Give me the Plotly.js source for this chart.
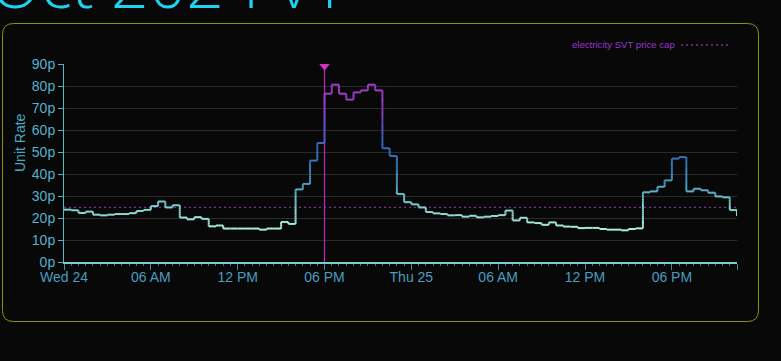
<!DOCTYPE html>
<html>
<head>
<meta charset="utf-8">
<script src="https://cdn.plot.ly/plotly-3.0.1.min.js"></script>
<style>
  html, body { margin: 0; padding: 0; background: #080808; }
  #chart { width: 781px; height: 361px; }
</style>
</head>
<body>
<div id="chart"></div>
<script>
// ---------- DATA ----------
const chartTitle = 'Oct 2024 v1';
const seriesStart = '2025-09-24 00:00';   // first half-hour slot (Wed 24)
const slotMinutes = 30;
// unit rate (p/kWh) for each half-hour slot, Wed 24 00:00 -> Thu 25 22:30
const unitRates = [
  23.8, 23.5, 22.3, 22.9, 21.5, 21.2, 21.5, 21.8, 21.8, 22.2,
  23.2, 23.7, 25.4, 27.5, 24.8, 25.8, 20.2, 19.4, 20.4, 19.6,
  16.2, 16.6, 15.2, 15.2, 15.2, 15.2, 15.2, 14.7, 15.2, 15.2,
  18.2, 17.3, 33.0, 35.5, 46.1, 54.1, 76.5, 80.6, 76.5, 73.8,
  77.1, 78.0, 80.6, 78.0, 51.7, 48.2, 30.9, 27.2, 26.2, 24.8,
  22.7, 22.1, 21.8, 21.2, 21.3, 20.6, 21.0, 20.3, 20.6, 20.9,
  21.3, 23.4, 18.9, 20.1, 18.0, 17.7, 16.9, 18.0, 16.6, 16.1,
  16.0, 15.4, 15.5, 15.5, 15.0, 14.7, 14.7, 14.4, 15.0, 15.3,
  31.7, 32.1, 34.2, 37.1, 47.0, 47.7, 32.1, 33.3, 32.6, 31.5,
  29.8, 29.4, 23.6, 20.9
];
const priceCapName = 'electricity SVT price cap';
const priceCap = 24.86;
const nowTime = '2025-09-24 18:00';
const tickTimes = ['2025-09-24 00:00','2025-09-24 06:00','2025-09-24 12:00','2025-09-24 18:00',
                   '2025-09-25 00:00','2025-09-25 06:00','2025-09-25 12:00','2025-09-25 18:00','2025-09-25 22:30'];
const tickLabels = ['Wed 24','06 AM','12 PM','06 PM','Thu 25','06 AM','12 PM','06 PM',''];
const yTitle = 'Unit Rate';
const yMax = 90;

// ---------- helpers ----------
function slotTime(k) {
  const p = seriesStart.split(/[- :]/).map(Number);
  const d = new Date(Date.UTC(p[0], p[1]-1, p[2], p[3], p[4]) + k*slotMinutes*60000);
  return d.toISOString().slice(0,16).replace('T',' ');
}
const times = unitRates.map((_, k) => slotTime(k));
const xStart = times[0], xEnd = times[times.length-1];

const stops = [
  [0,[180,244,220]],[15,[170,238,219]],[20,[150,224,210]],[25,[128,208,204]],
  [30,[104,188,200]],[35,[78,158,196]],[42,[58,128,188]],[50,[47,108,184]],
  [56,[62,98,192]],[65,[112,72,196]],[75,[154,60,200]],[90,[168,60,208]]
];
function colorFor(v) {
  for (let i = 1; i < stops.length; i++) {
    if (v <= stops[i][0]) {
      const a = stops[i-1], b = stops[i];
      const f = (v - a[0]) / (b[0] - a[0]);
      const c = a[1].map((ca, j) => Math.round(ca + (b[1][j]-ca)*f));
      return `rgb(${c[0]},${c[1]},${c[2]})`;
    }
  }
  const c = stops[stops.length-1][1];
  return `rgb(${c[0]},${c[1]},${c[2]})`;
}

// build step line as colour-bucketed segments
const buckets = new Map();
function addSeg(x1, y1, x2, y2, val) {
  const b = Math.round(val);
  if (!buckets.has(b)) buckets.set(b, {x: [], y: []});
  const s = buckets.get(b);
  s.x.push(x1, x2, null); s.y.push(y1, y2, null);
}
for (let k = 0; k < unitRates.length - 1; k++) {
  addSeg(times[k], unitRates[k], times[k+1], unitRates[k], unitRates[k]);
  const a = unitRates[k], b = unitRates[k+1];
  const n = Math.max(1, Math.ceil(Math.abs(b - a)));
  for (let j = 0; j < n; j++) {
    const y1 = a + (b-a)*j/n, y2 = a + (b-a)*(j+1)/n;
    addSeg(times[k+1], y1, times[k+1], y2, (y1+y2)/2);
  }
}

const traces = [];
// price cap dotted line
traces.push({
  x: [xStart, xEnd], y: [priceCap, priceCap], type: 'scatter', mode: 'lines',
  name: priceCapName, hoverinfo: 'skip',
  line: {color: '#74308a', width: 1.3, dash: '2px,3px'}
});
// now marker line
traces.push({
  x: [nowTime, nowTime], y: [0, yMax - 1], type: 'scatter', mode: 'lines',
  hoverinfo: 'skip', line: {color: '#b52cb0', width: 1.3}
});
for (const [b, s] of [...buckets.entries()].sort((p, q) => p[0] - q[0])) {
  traces.push({
    x: s.x, y: s.y, type: 'scatter', mode: 'lines', hoverinfo: 'skip',
    connectgaps: false, line: {color: colorFor(b), width: 2}
  });
}
traces.push({
  x: [nowTime], y: [yMax - 1], type: 'scatter', mode: 'markers', hoverinfo: 'skip',
  cliponaxis: false,
  marker: {symbol: 'triangle-down', size: 9, color: '#d030c4'}
});

// ---------- layout ----------
const W = 781, H = 361, M = {l: 64, r: 44, t: 64, b: 99};
const pw = W - M.l - M.r, ph = H - M.t - M.b;
const px = x => (x - M.l) / pw;
const py = y => (H - M.b - y) / ph;
function roundRect(x0, y0, x1, y1, r) {
  const P = (x, y) => `${px(x)},${py(y)}`;
  return `M ${P(x0+r,y0)} L ${P(x1-r,y0)} Q ${P(x1,y0)} ${P(x1,y0+r)} L ${P(x1,y1-r)} Q ${P(x1,y1)} ${P(x1-r,y1)} ` +
         `L ${P(x0+r,y1)} Q ${P(x0,y1)} ${P(x0,y1-r)} L ${P(x0,y0+r)} Q ${P(x0,y0)} ${P(x0+r,y0)} Z`;
}

const layout = {
  width: W, height: H, margin: M,
  paper_bgcolor: '#080808', plot_bgcolor: '#080808',
  showlegend: false,
  font: {family: 'Liberation Sans, Arial, sans-serif', color: '#4a9cc0'},
  xaxis: {
    type: 'date', range: [xStart, xEnd],
    tickmode: 'array', tickvals: tickTimes, ticktext: tickLabels,
    ticks: 'outside', ticklen: 6, tickcolor: '#3f8a9c', tickwidth: 1,
    ticklabelstandoff: -5,
    tickfont: {size: 14, color: '#4a9cc0'},
    showline: true, linecolor: '#7ccccc', linewidth: 2,
    showgrid: false, zeroline: false,
    minor: {dtick: slotMinutes*60000, tick0: xStart, ticks: 'outside', ticklen: 2, tickcolor: '#3a7584', showgrid: false}
  },
  yaxis: {
    range: [0, yMax], dtick: 10, ticksuffix: 'p',
    ticks: 'outside', ticklen: 5, tickcolor: '#5ab0c0',
    tickfont: {size: 14, color: '#55b0cc'},
    showline: true, linecolor: '#5ab8c0', linewidth: 1,
    gridcolor: '#2a2a2a', gridwidth: 1, zeroline: false
  },
  shapes: [
    {type: 'path', xref: 'paper', yref: 'paper', path: roundRect(2.5, 23.5, 758.5, 321.5, 11),
     line: {color: '#8f8f12', width: 1}, fillcolor: 'rgba(0,0,0,0)', layer: 'below'},
    {type: 'line', xref: 'paper', yref: 'paper', x0: px(681), x1: px(728), y0: py(45), y1: py(45),
     line: {color: '#7a3090', width: 1.3, dash: '2px,3px'}}
  ],
  annotations: [
    {text: chartTitle, xref: 'paper', yref: 'paper', x: px(-12), y: py(29), xanchor: 'left', yanchor: 'bottom',
     showarrow: false, font: {family: 'Open Sans, sans-serif', size: 66, weight: 300, color: '#1ed2f2'}},
    {text: yTitle, xref: 'paper', yref: 'paper', x: px(20), y: py(143), xanchor: 'center', yanchor: 'middle',
     textangle: -90, showarrow: false, font: {size: 14, color: '#4aa8c4'}},
    {text: priceCapName, xref: 'paper', yref: 'paper', x: px(677), y: py(45), xanchor: 'right', yanchor: 'middle',
     showarrow: false, font: {size: 9.6, color: '#9b35d0'}}
  ]
};

Plotly.newPlot('chart', traces, layout, {displayModeBar: false, staticPlot: true});
</script>
</body>
</html>
